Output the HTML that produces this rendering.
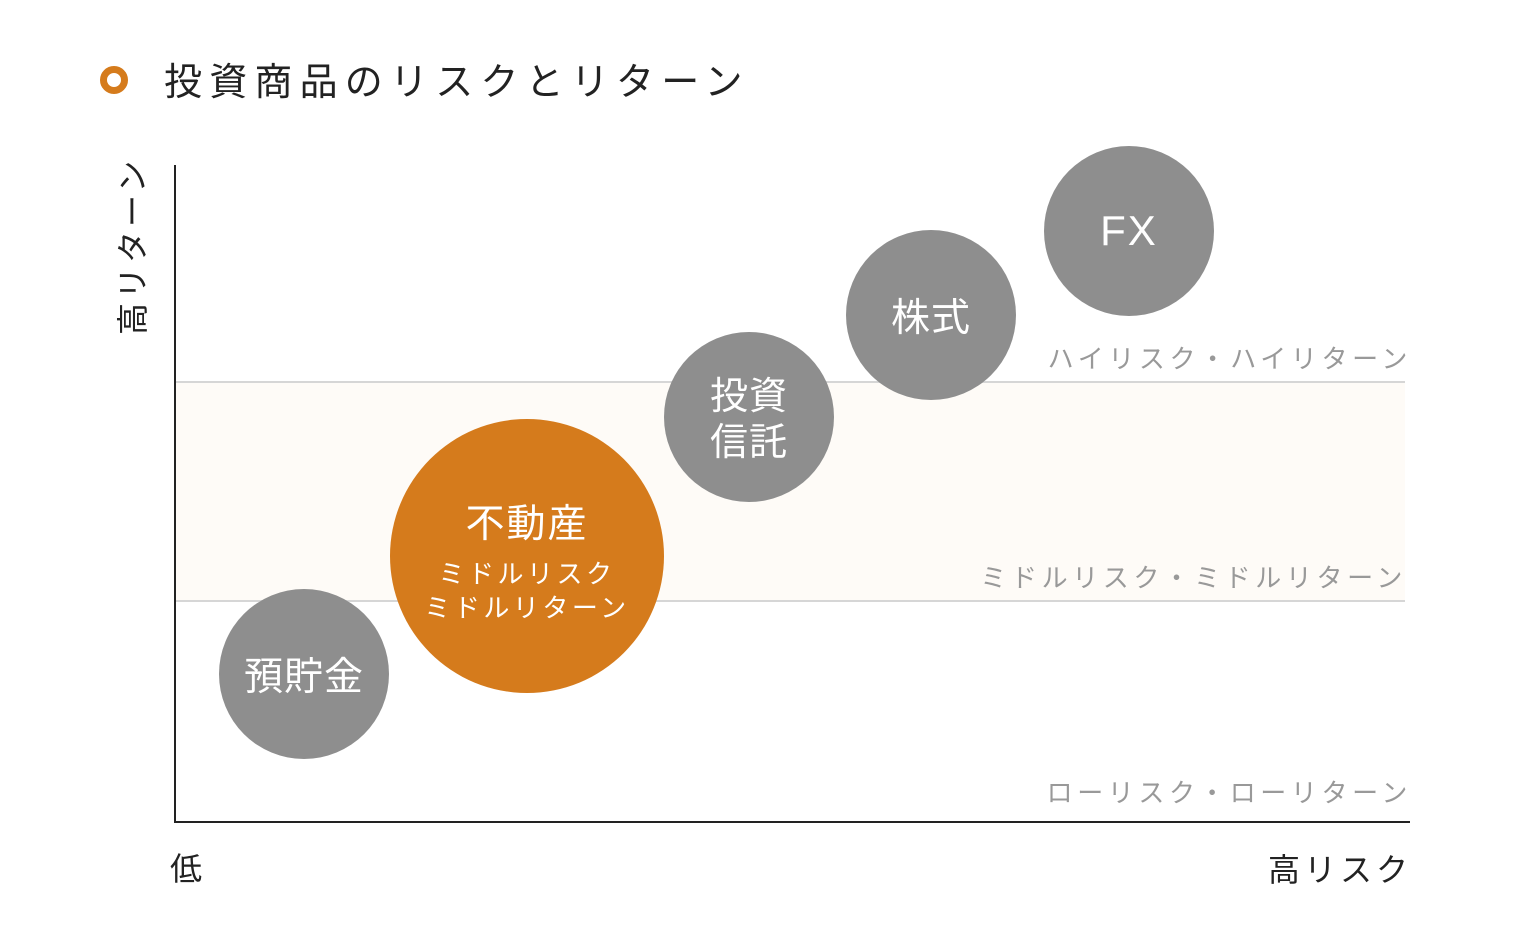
<!DOCTYPE html>
<html><head><meta charset="utf-8"><style>
body{margin:0;width:1530px;height:938px;background:#fff;position:relative;overflow:hidden;font-family:"Liberation Sans","Noto Sans CJK JP",sans-serif;}
.a{position:absolute;}
.c{position:absolute;border-radius:50%;background:#8e8e8e;color:#fff;display:flex;flex-direction:column;align-items:center;justify-content:center;text-align:center;}
.lbl{position:absolute;color:#999;font-size:26px;letter-spacing:4.6px;white-space:nowrap;text-align:right;}
</style></head><body>
<div class="a" style="left:100px;top:66px;width:14px;height:14px;border:7px solid #d57b1c;border-radius:50%"></div>
<div class="a" style="left:164px;top:51px;font-size:38px;letter-spacing:7.2px;color:#222;white-space:nowrap">投資商品のリスクとリターン</div>

<div class="a" style="left:175px;top:382px;width:1230px;height:219px;background:#fefbf7"></div>
<div class="a" style="left:175px;top:381px;width:1230px;height:2px;background:#d6d6d6"></div>
<div class="a" style="left:175px;top:600px;width:1230px;height:2px;background:#d6d6d6"></div>
<div class="a" style="left:174px;top:165px;width:2px;height:658px;background:#222"></div>
<div class="a" style="left:174px;top:821px;width:1236px;height:2px;background:#222"></div>

<div class="a" style="left:48px;top:230px;width:170px;height:40px;transform:rotate(-90deg);font-size:32px;letter-spacing:4px;color:#222;white-space:nowrap;text-align:center;line-height:40px">高リターン</div>
<div class="a" style="left:170px;top:844px;font-size:32px;color:#222">低</div>
<div class="a" style="left:1268px;top:845px;font-size:32px;letter-spacing:4px;color:#222;white-space:nowrap">高リスク</div>

<div class="lbl" style="right:118px;top:339px">ハイリスク・ハイリターン</div>
<div class="lbl" style="right:123px;top:558px">ミドルリスク・ミドルリターン</div>
<div class="lbl" style="right:118px;top:773px">ローリスク・ローリターン</div>

<div class="c" style="left:219px;top:589px;width:170px;height:170px;font-size:39px;letter-spacing:1px">預貯金</div>
<div class="c" style="left:390px;top:419px;width:274px;height:274px;background:#d57b1c">
<div style="font-size:39px;letter-spacing:2px;margin-top:6px">不動産</div>
<div style="font-size:26px;letter-spacing:3.5px;line-height:34px;margin-top:8px">ミドルリスク<br>ミドルリターン</div></div>
<div class="c" style="left:664px;top:332px;width:170px;height:170px;font-size:38px;line-height:46px;letter-spacing:1px;padding-top:6px;box-sizing:border-box">投資<br>信託</div>
<div class="c" style="left:846px;top:230px;width:170px;height:170px;font-size:39px;letter-spacing:1px">株式</div>
<div class="c" style="left:1044px;top:146px;width:170px;height:170px;font-size:42px;letter-spacing:2px">FX</div>
</body></html>
